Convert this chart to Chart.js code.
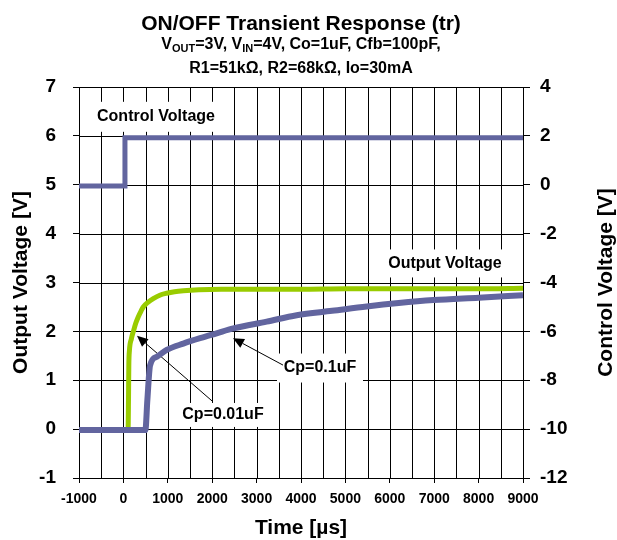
<!DOCTYPE html>
<html>
<head>
<meta charset="utf-8">
<script src="https://cdn.jsdelivr.net/npm/chart.js@4.4.1/dist/chart.umd.min.js"></script>
<style>
  html, body { margin: 0; padding: 0; background: #fff; }
  #wrap { width: 617px; height: 540px; }
</style>
</head>
<body>
<div id="wrap"><canvas id="chart" width="617" height="540"></canvas></div>
<script>
// Time axis [us], left axis = output voltage [V], right axis = control voltage [V]
const timeRange = [-1000, 9000];
const outRange  = [-1, 7];
const ctlRange  = [-12, 4];

// control voltage step (right axis)
const ctlTime = [-1000, 15, 35, 9000];
const ctlVolt = [-0.05, -0.05, 1.92, 1.92];

// output voltage, Cp = 0.01uF (left axis)
const cp001Time = [-1000, 105, 115, 122, 135, 180, 225, 280, 336, 400, 448, 560, 673, 820, 975, 1150, 1350, 1700, 2200, 3000, 4000, 5000, 6000, 7000, 8000, 9000];
const cp001Volt = [-0.02, -0.02, 0.6, 1.3, 1.6, 1.85, 2.0, 2.17, 2.3, 2.42, 2.5, 2.6, 2.67, 2.74, 2.78, 2.81, 2.83, 2.85, 2.86, 2.86, 2.86, 2.87, 2.87, 2.87, 2.87, 2.88];

// output voltage, Cp = 0.1uF (left axis)
const cp01Time = [-1000, 495, 540, 600, 750, 975, 1350, 1725, 2100, 2475, 3227, 3903, 4700, 5480, 6200, 6980, 8000, 9000];
const cp01Volt = [-0.02, -0.02, 0.6, 1.3, 1.48, 1.62, 1.75, 1.86, 1.96, 2.06, 2.2, 2.33, 2.42, 2.51, 2.58, 2.64, 2.69, 2.74];

const FONT = '"Liberation Sans", Arial, sans-serif';
const BLUE = '#62659f';
const GREEN = '#99cc00';
const gridCol = '#000';

const pts = (xs, ys) => xs.map((x, i) => ({ x, y: ys[i] }));

// callouts: text boxes (data coords on x / left y) and arrows
const notes = [
  { text: 'Control Voltage', x: 734,  y: 6.39, w: 130, h: 30, size: 16 },
  { text: 'Output Voltage',  x: 7243, y: 3.39, w: 130, h: 28, size: 16 },
  { text: 'Cp=0.1uF',        x: 4428, y: 1.25, w: 86,  h: 29, size: 16 },
  { text: 'Cp=0.01uF',       x: 2243, y: 0.29, w: 92,  h: 24, size: 16 }
];
const arrows = [
  { from: [3595, 1.31], to: [2468, 1.86] },
  { from: [2018, 0.56], to: [306, 1.91] }
];

function drawArrow(ctx, x1, y1, x2, y2) {
  const a = Math.atan2(y2 - y1, x2 - x1);
  const len = 11, half = 5;
  ctx.strokeStyle = '#000';
  ctx.lineWidth = 1;
  ctx.beginPath();
  ctx.moveTo(x1, y1);
  ctx.lineTo(x2 - Math.cos(a) * len, y2 - Math.sin(a) * len);
  ctx.stroke();
  ctx.fillStyle = '#000';
  ctx.beginPath();
  ctx.moveTo(x2, y2);
  ctx.lineTo(x2 - Math.cos(a) * len - Math.sin(a) * half, y2 - Math.sin(a) * len + Math.cos(a) * half);
  ctx.lineTo(x2 - Math.cos(a) * len + Math.sin(a) * half, y2 - Math.sin(a) * len - Math.cos(a) * half);
  ctx.closePath();
  ctx.fill();
}

// text made of runs, some of them subscript
function drawRuns(ctx, runs, cx, y, size) {
  const big = 'bold ' + size + 'px ' + FONT;
  const small = 'bold ' + Math.round(size * 0.68) + 'px ' + FONT;
  let total = 0;
  runs.forEach(r => { ctx.font = r.sub ? small : big; total += ctx.measureText(r.t).width; });
  let x = cx - total / 2;
  ctx.textAlign = 'left';
  ctx.textBaseline = 'alphabetic';
  runs.forEach(r => {
    ctx.font = r.sub ? small : big;
    ctx.fillText(r.t, x, r.sub ? y + 3 : y);
    x += ctx.measureText(r.t).width;
  });
}

const textPlugin = {
  id: 'texts',
  beforeDatasetsDraw(chart) {
    const { ctx, chartArea: ca, scales: { x, y } } = chart;
    ctx.save();
    // grid lines on the plot area, one per scale tick
    ctx.strokeStyle = gridCol;
    ctx.lineWidth = 1;
    x.ticks.forEach(t => {
      const px = Math.round(x.getPixelForValue(t.value)) + 0.5;
      ctx.beginPath();
      ctx.moveTo(px, ca.top);
      ctx.lineTo(px, ca.bottom);
      ctx.stroke();
    });
    y.ticks.forEach(t => {
      const py = Math.round(y.getPixelForValue(t.value)) + 0.5;
      ctx.beginPath();
      ctx.moveTo(ca.left, py);
      ctx.lineTo(ca.right, py);
      ctx.stroke();
    });

    notes.forEach(n => {
      const px = x.getPixelForValue(n.x), py = y.getPixelForValue(n.y);
      ctx.fillStyle = '#fff';
      ctx.fillRect(px - n.w / 2, py - n.h / 2, n.w, n.h);
      ctx.fillStyle = '#000';
      ctx.font = 'bold ' + n.size + 'px ' + FONT;
      ctx.textAlign = 'center';
      ctx.textBaseline = 'middle';
      ctx.fillText(n.text, px, py);
    });
    arrows.forEach(a => {
      drawArrow(ctx, x.getPixelForValue(a.from[0]), y.getPixelForValue(a.from[1]),
                     x.getPixelForValue(a.to[0]),   y.getPixelForValue(a.to[1]));
    });
    ctx.restore();
  },
  afterDraw(chart) {
    const { ctx, chartArea: ca } = chart;
    const midX = (ca.left + ca.right) / 2;
    const midY = (ca.top + ca.bottom) / 2;
    ctx.save();
    ctx.fillStyle = '#000';
    ctx.font = 'bold 21px ' + FONT;
    ctx.textAlign = 'center';
    ctx.textBaseline = 'alphabetic';
    ctx.fillText('ON/OFF Transient Response (tr)', midX, 30);
    drawRuns(ctx, [
      { t: 'V' }, { t: 'OUT', sub: true }, { t: '=3V, V' }, { t: 'IN', sub: true },
      { t: '=4V, Co=1uF, Cfb=100pF,' }
    ], midX, 49, 16);
    drawRuns(ctx, [{ t: 'R1=51k\u03A9, R2=68k\u03A9, Io=30mA' }], midX, 73, 16);

    ctx.font = 'bold 21px ' + FONT;
    ctx.textAlign = 'center';
    ctx.textBaseline = 'middle';
    ctx.fillText('Time [\u00B5s]', midX, 528);
    ctx.save();
    ctx.translate(21, midY);
    ctx.rotate(-Math.PI / 2);
    ctx.fillText('Output Voltage [V]', 0, 0);
    ctx.restore();
    ctx.save();
    ctx.translate(606, midY);
    ctx.rotate(-Math.PI / 2);
    ctx.fillText('Control Voltage [V]', 0, 0);
    ctx.restore();
    ctx.restore();
  }
};

new Chart(document.getElementById('chart').getContext('2d'), {
  type: 'line',
  data: {
    datasets: [
      { label: 'Control Voltage', data: pts(ctlTime, ctlVolt), yAxisID: 'y2',
        borderColor: BLUE, borderWidth: 5, pointRadius: 0, tension: 0 },
      { label: 'Cp=0.1uF', data: pts(cp01Time, cp01Volt), yAxisID: 'y',
        borderColor: BLUE, borderWidth: 6, pointRadius: 0, cubicInterpolationMode: 'monotone' },
      { label: 'Cp=0.01uF', data: pts(cp001Time, cp001Volt), yAxisID: 'y',
        borderColor: GREEN, borderWidth: 5, pointRadius: 0, cubicInterpolationMode: 'monotone' }
    ]
  },
  options: {
    responsive: false,
    animation: false,
    events: [],
    layout: { padding: { top: 87, left: 0, right: 0, bottom: 0 } },
    plugins: { legend: { display: false }, tooltip: { enabled: false } },
    scales: {
      x: {
        type: 'linear', min: timeRange[0], max: timeRange[1],
        afterFit: s => { s.height = 62; },
        ticks: {
          stepSize: 500, autoSkip: false, maxRotation: 0, padding: 8, color: '#000',
          font: { family: FONT, size: 14, weight: 'bold' },
          callback: v => (v % 1000 === 0 ? String(v) : '')
        },
        grid: {
          drawOnChartArea: false, tickLength: 5,
          tickColor: c => (c.tick && c.tick.value % 1000 === 0 ? '#000' : 'rgba(0,0,0,0)')
        },
        border: { color: '#000', width: 1 }
      },
      y: {
        position: 'left', min: outRange[0], max: outRange[1],
        afterFit: s => { s.width = 79; },
        ticks: { stepSize: 1, padding: 17, color: '#000', font: { family: FONT, size: 19, weight: 'bold' } },
        grid: { drawOnChartArea: false, tickLength: 6, tickColor: '#000' },
        border: { color: '#000', width: 1 }
      },
      y2: {
        position: 'right', min: ctlRange[0], max: ctlRange[1],
        afterFit: s => { s.width = 94; },
        ticks: { stepSize: 2, padding: 10, color: '#000', font: { family: FONT, size: 19, weight: 'bold' } },
        grid: { drawOnChartArea: false, tickLength: 7, tickColor: '#000' },
        border: { color: '#000', width: 1 }
      }
    }
  },
  plugins: [textPlugin]
});
</script>
</body>
</html>
